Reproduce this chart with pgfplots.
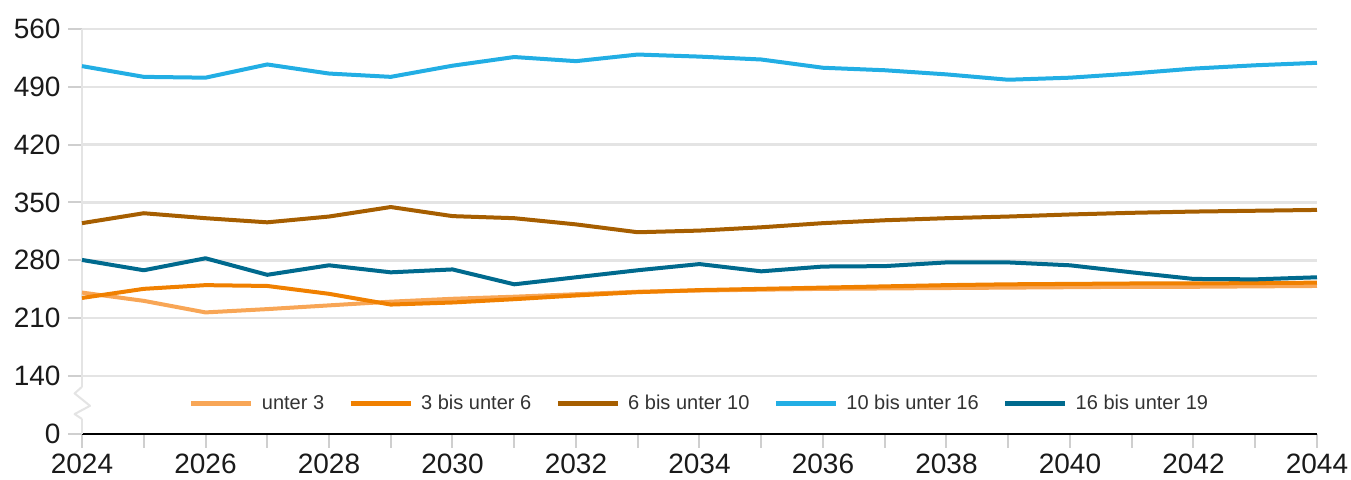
\documentclass[border=0pt]{standalone}
\usepackage{pgfplots}
\pgfplotsset{compat=1.18}
\usepackage{fontspec}
\setmainfont{Liberation Sans}

\definecolor{cU3}{HTML}{F8A656}
\definecolor{c3b6}{HTML}{F08000}
\definecolor{c6b10}{HTML}{A65E00}
\definecolor{c10b16}{HTML}{22AEE4}
\definecolor{c16b19}{HTML}{006A8E}
\definecolor{gridgray}{HTML}{E4E4E4}
\definecolor{tickgray}{HTML}{CFCFCF}
\definecolor{txt}{HTML}{1A1A1A}

\begin{document}
\begin{tikzpicture}
\begin{axis}[
  scale only axis,
  width=1235pt, height=405pt,
  xmin=2024, xmax=2044,
  ymin=70, ymax=560,
  clip=false,
  axis x line*=bottom,
  axis y line*=left,
  x axis line style={-, black, line width=2.5pt},
  y axis line style={-, gridgray, line width=2pt},
  xtick={2024,2026,2028,2030,2032,2034,2036,2038,2040,2042,2044},
  minor xtick={2025,2027,2029,2031,2033,2035,2037,2039,2041,2043},
  ytick={70,140,210,280,350,420,490,560},
  yticklabels={0,140,210,280,350,420,490,560},
  tick align=outside,
  major tick length=14pt,
  minor tick length=14pt,
  every tick/.style={tickgray, line width=2pt},
  ymajorgrids,
  major grid style={gridgray, line width=2.5pt},
  xticklabel style={/pgf/number format/1000 sep={}, yshift=-3pt},
  yticklabel style={xshift=-4pt},
  /pgf/number format/assume math mode=true,
  tick label style={font=\fontsize{28}{28}\selectfont, text=txt},
  legend style={at={(rel axis cs:0.5,0.0755)}, anchor=center,
    draw=none, fill=none, legend columns=-1,
    font=\fontsize{20}{20}\selectfont, text=black!80,
    /tikz/every odd column/.append style={column sep=6pt},
    /tikz/every even column/.append style={column sep=22pt}},
  legend image code/.code={\draw[line width=5pt] (0pt,0pt) -- (60pt,0pt);},
  every axis plot/.append style={line width=4pt, line join=round},
]
\addplot[cU3] coordinates {
 (2024,241) (2025,231) (2026,217) (2027,221) (2028,225.5) (2029,230)
 (2030,233.5) (2031,236) (2032,239) (2033,242) (2034,243.5) (2035,244.5)
 (2036,245.5) (2037,246) (2038,246.5) (2039,247) (2040,247.5) (2041,248)
 (2042,248) (2043,248.5) (2044,249)};
\addlegendentry{unter 3}
\addplot[c3b6] coordinates {
 (2024,234.5) (2025,245.5) (2026,250) (2027,249) (2028,239.5) (2029,226.5)
 (2030,229) (2031,233) (2032,237.5) (2033,241.5) (2034,244) (2035,245.5)
 (2036,247) (2037,248.5) (2038,250) (2039,251) (2040,251.5) (2041,252)
 (2042,252) (2043,252.5) (2044,253)};
\addlegendentry{3 bis unter 6}
\addplot[c6b10] coordinates {
 (2024,325) (2025,337) (2026,331) (2027,326) (2028,333) (2029,344.5)
 (2030,333.5) (2031,331) (2032,323.5) (2033,314) (2034,316) (2035,320)
 (2036,325) (2037,328.5) (2038,331) (2039,333) (2040,335.5) (2041,337.5)
 (2042,339) (2043,340) (2044,341)};
\addlegendentry{6 bis unter 10}
\addplot[c10b16] coordinates {
 (2024,515) (2025,502) (2026,501) (2027,517) (2028,506) (2029,502)
 (2030,515.5) (2031,526) (2032,521) (2033,529) (2034,526.5) (2035,523)
 (2036,513) (2037,510) (2038,505) (2039,498.5) (2040,501) (2041,506)
 (2042,512) (2043,516) (2044,519)};
\addlegendentry{10 bis unter 16}
\addplot[c16b19] coordinates {
 (2024,280.5) (2025,268) (2026,282.5) (2027,262.5) (2028,274) (2029,265.5)
 (2030,269) (2031,251) (2032,259.5) (2033,268) (2034,275.5) (2035,266.7)
 (2036,272.5) (2037,273) (2038,277.5) (2039,277.5) (2040,274) (2041,265.5)
 (2042,257.5) (2043,257) (2044,259.5)};
\addlegendentry{16 bis unter 19}

% axis break mark
\draw[white, line width=8pt] (axis cs:2024,88) -- (axis cs:2024,127);
\draw[gridgray, line width=2pt, line join=round]
  (axis cs:2024,127) -- (axis cs:2023.88,119) -- (axis cs:2024.13,104)
  -- (axis cs:2023.88,94) -- (axis cs:2024,88);

\coordinate (bl) at (axis cs:2022.672,14.5);
\coordinate (tr) at (axis cs:2044.551,595);
\end{axis}
\pgfresetboundingbox
\path (bl) rectangle (tr);
\end{tikzpicture}
\end{document}
